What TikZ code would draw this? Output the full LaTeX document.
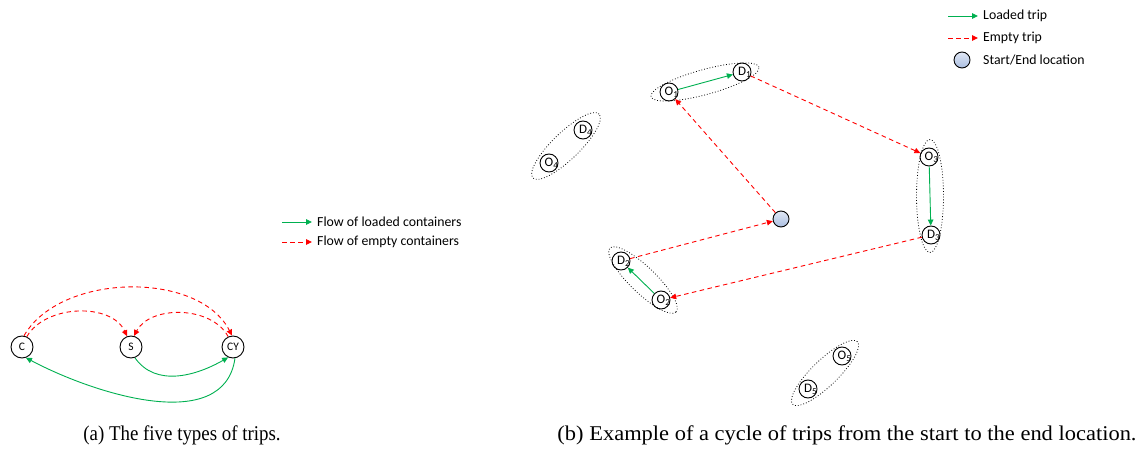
\documentclass[tikz,border=0pt]{standalone}
\usepackage{fontspec}
\usepackage{graphicx}
\setmainfont{Liberation Serif}
\newfontfamily\diag{Carlito}
\usetikzlibrary{arrows.meta,shapes.geometric}
\definecolor{loaded}{RGB}{0,176,80}
\definecolor{empty}{RGB}{255,0,0}
\definecolor{depottop}{RGB}{225,232,245}
\definecolor{depotbot}{RGB}{170,190,225}

\tikzset{
  headtip/.style={-{Triangle[length=6pt,width=5.5pt]}},
  loadedarr/.style={draw=loaded, line width=0.9pt, headtip},
  emptyarr/.style={draw=empty, line width=0.9pt, dash pattern=on 4.5pt off 3.5pt, headtip},
  place/.style={circle, draw, line width=0.9pt, minimum size=22pt, inner sep=0pt,
    font=\diag\fontsize{11.5}{13}\selectfont},
  loc/.style={circle, draw, line width=0.9pt, minimum size=18pt, inner sep=0pt,
    font=\diag\fontsize{13}{14}\selectfont},
  grp/.style={ellipse, draw, dotted, line width=0.8pt, inner sep=0pt},
  depot/.style={circle, draw, line width=0.9pt, minimum size=16pt, inner sep=0pt,
    top color=depottop, bottom color=depotbot},
  legtext/.style={anchor=west, inner sep=0pt, font=\diag\fontsize{13.8}{15}\selectfont},
  captext/.style={font=\fontsize{21}{24}\selectfont},
}

\begin{document}
\begin{tikzpicture}[x=1pt,y=1pt]
\useasboundingbox (0,0) rectangle (1139,450);

% ---------- (a) trip types ----------
\node[place] (C)  at (22,103)  {C};
\node[place] (S)  at (131,103) {S};
\node[place] (CY) at (233,103) {CY};

\draw[emptyarr] (C.65) to[out=60,in=115,looseness=0.95] (S.110);
\draw[emptyarr] (C.80) to[out=60,in=117,looseness=0.9] (CY.95);
\draw[emptyarr] (CY.115) to[out=118,in=62,looseness=0.95] (S.75);
\draw[loadedarr] (S.-70) to[out=-55,in=-150] (CY.-115);
\draw[loadedarr] (CY.-80) to[out=-98,in=-28,looseness=0.95] (C.-70);

\coordinate (la1) at (282,228); \coordinate (la2) at (312,228);
\draw[loadedarr] (la1) -- (la2);
\node[legtext] (lat1) at (317,228) {Flow of loaded containers};
\coordinate (lb1) at (282,208); \coordinate (lb2) at (312,208);
\draw[emptyarr] (lb1) -- (lb2);
\node[legtext] (lat2) at (317,208) {Flow of empty containers};

\node[captext] (capa) at (182,15) {\scalebox{0.9}[1]{(a) The five types of trips.}};

% ---------- (b) a cycle of trips ----------
\node[grp, minimum width=112pt, minimum height=25pt, rotate=15.3] (g1) at (705,368) {};
\node[grp, minimum width=92pt, minimum height=27pt, rotate=44] (g4) at (566,304) {};
\node[grp, minimum width=113pt, minimum height=27pt, rotate=90] (g3) at (930,254) {};
\node[grp, minimum width=92pt, minimum height=26pt, rotate=-44] (g2) at (643,170) {};
\node[grp, minimum width=90pt, minimum height=26pt, rotate=44] (g5) at (825,77) {};

\node[loc] (O1) at (669,358) {O\rlap{\textsubscript{1}}};
\node[loc] (D1) at (742,378) {D\rlap{\textsubscript{1}}};
\node[loc] (D4) at (583,320) {D\rlap{\textsubscript{4}}};
\node[loc] (O4) at (549,287) {O\rlap{\textsubscript{4}}};
\node[loc] (O3) at (929,293) {O\rlap{\textsubscript{3}}};
\node[loc] (D3) at (931,215) {D\rlap{\textsubscript{3}}};
\node[loc] (D2) at (621,189) {D\rlap{\textsubscript{2}}};
\node[loc] (O2) at (661,150) {O\rlap{\textsubscript{2}}};
\node[loc] (O5) at (842,94)  {O\rlap{\textsubscript{5}}};
\node[loc] (D5) at (808,61)  {D\rlap{\textsubscript{5}}};
\node[depot] (start) at (781,231) {};

\draw[loadedarr] (O1) -- (D1);
\draw[emptyarr]  (D1) -- (O3);
\draw[loadedarr] (O3) -- (D3);
\draw[emptyarr]  (D3) -- (O2);
\draw[loadedarr] (O2) -- (D2);
\draw[emptyarr]  (D2) -- (start);
\draw[emptyarr]  (start) -- (O1);

\coordinate (lc1) at (948,434); \coordinate (lc2) at (978,434);
\draw[loadedarr] (lc1) -- (lc2);
\node[legtext] (lct1) at (983,434) {Loaded trip};
\coordinate (ld1) at (948,412); \coordinate (ld2) at (978,412);
\draw[emptyarr] (ld1) -- (ld2);
\node[legtext] (lct2) at (983,412) {Empty trip};
\node[depot] (lcd) at (962,390) {};
\node[legtext] (lct3) at (983,390) {Start/End location};

\node[captext] (capb) at (847,15) {\scalebox{1.07}[1]{(b) Example of a cycle of trips from the start to the end location.}};
\end{tikzpicture}
\end{document}
